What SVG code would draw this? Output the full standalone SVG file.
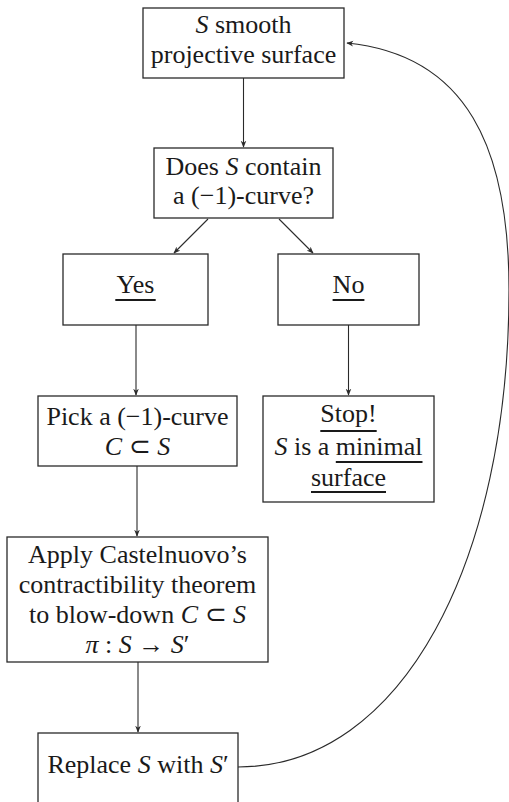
<svg xmlns="http://www.w3.org/2000/svg" width="509" height="802" viewBox="0 0 509 802">
<defs>
<style>
.box{fill:#fff;stroke:#2a2a2a;stroke-width:1.3}
.t{font-family:"Liberation Serif","Times New Roman",serif;font-size:26px;fill:#1a1a1a;text-anchor:middle}
.i{font-style:italic}
.ul{stroke:#1a1a1a;stroke-width:1.8}
.c{fill:none;stroke:#2a2a2a;stroke-width:1.1}
</style>
<marker id="ah" viewBox="0 0 10 10" refX="9" refY="5" markerWidth="7" markerHeight="7" markerUnits="userSpaceOnUse" orient="auto">
<path d="M0,1 L10,5 L0,9 L3,5 Z" fill="#2a2a2a"/>
</marker>
</defs>
<rect width="509" height="802" fill="#fff"/>
<g id="connectors">
<path class="c" d="M243.5,78 L243.5,147" marker-end="url(#ah)"/>
<path class="c" d="M208,219 L174,253" marker-end="url(#ah)"/>
<path class="c" d="M279,219 L313,253" marker-end="url(#ah)"/>
<path class="c" d="M136,325 L136,395" marker-end="url(#ah)"/>
<path class="c" d="M348.5,325 L348.5,395" marker-end="url(#ah)"/>
<path class="c" d="M137,466 L137,536" marker-end="url(#ah)"/>
<path class="c" d="M138,662 L138,732" marker-end="url(#ah)"/>
<path class="c" d="M238,767 C403,767 509,560 509,290 C509,148 467,55 347,43" marker-end="url(#ah)"/>
</g>
<g id="n1">
<rect class="box" x="143" y="8" width="201" height="70"/>
<text class="t" x="243.5" y="33"><tspan class="i">S</tspan> smooth</text>
<text class="t" x="243.5" y="63">projective surface</text>
</g>
<g id="n2">
<rect class="box" x="154" y="148" width="179" height="70"/>
<text class="t" x="243.5" y="175">Does <tspan class="i">S</tspan> contain</text>
<text class="t" x="243.5" y="204">a (−1)-curve?</text>
</g>
<g id="yes">
<rect class="box" x="63" y="254" width="145" height="71"/>
<text class="t" x="135.5" y="293">Yes</text>
<line class="ul" x1="115.3" y1="300" x2="155.7" y2="300"/>
</g>
<g id="no">
<rect class="box" x="278" y="254" width="141" height="71"/>
<text class="t" x="348.5" y="293">No</text>
<line class="ul" x1="332.6" y1="300" x2="364.4" y2="300"/>
</g>
<g id="pick">
<rect class="box" x="38" y="396" width="199" height="70"/>
<text class="t" x="137.5" y="425">Pick a (−1)-curve</text>
<text class="t" x="137.5" y="455"><tspan class="i">C</tspan> ⊂ <tspan class="i">S</tspan></text>
</g>
<g id="stop">
<rect class="box" x="263" y="396" width="171" height="106"/>
<text class="t" x="348.5" y="422">Stop!</text>
<line class="ul" x1="320.3" y1="431" x2="376.7" y2="431"/>
<text class="t" x="348.5" y="455"><tspan class="i">S</tspan> is a minimal</text>
<line class="ul" x1="335.8" y1="462" x2="422.5" y2="462"/>
<text class="t" x="348.5" y="486">surface</text>
<line class="ul" x1="311" y1="492" x2="386" y2="492"/>
</g>
<g id="apply">
<rect class="box" x="7" y="537" width="261" height="125"/>
<text class="t" x="137.5" y="563">Apply Castelnuovo’s</text>
<text class="t" x="137.5" y="593">contractibility theorem</text>
<text class="t" x="137.5" y="623">to blow-down <tspan class="i">C</tspan> ⊂ <tspan class="i">S</tspan></text>
<text class="t" x="137.5" y="653"><tspan class="i">π</tspan> : <tspan class="i">S</tspan> → <tspan class="i">S</tspan>′</text>
</g>
<g id="replace">
<rect class="box" x="38" y="733" width="200" height="80"/>
<text class="t" x="138" y="773">Replace <tspan class="i">S</tspan> with <tspan class="i">S</tspan>′</text>
</g>
</svg>
